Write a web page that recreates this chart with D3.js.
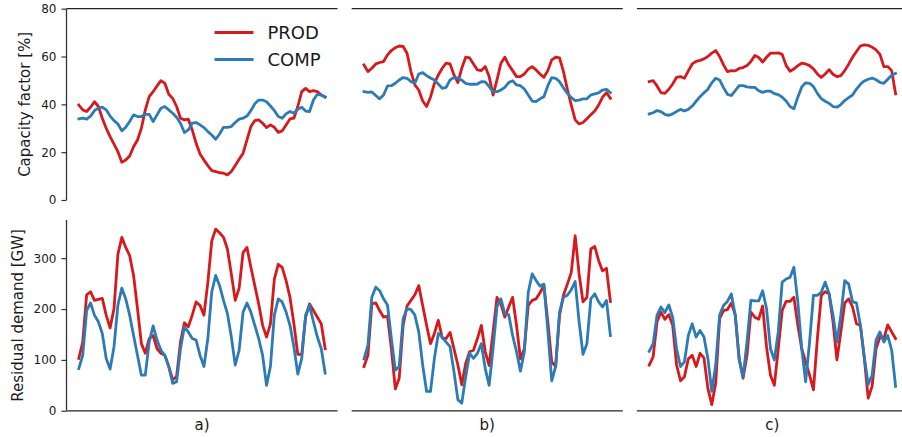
<!DOCTYPE html>
<html>
<head>
<meta charset="utf-8">
<script src="https://cdn.jsdelivr.net/npm/d3@7"></script>
<style>
  html, body { margin: 0; padding: 0; background: #fff; }
  svg { display: block; }
  text { font-family: "DejaVu Sans", sans-serif; fill: #1a1a1a; }
</style>
</head>
<body>
<svg id="chart" width="902" height="437"></svg>
<script>
// ---------------- data ----------------
const panelLabels = ["a)", "b)", "c)"];
const seriesNames = ["PROD", "COMP"];
const cfTicks = [0, 20, 40, 60, 80];
const rdTicks = [0, 100, 200, 300];
const cfLabel = "Capacity factor [%]";
const rdLabel = "Residual demand [GW]";

// capacity factor [%] (top row)
const cfProdA = [39.7,37.7,37.0,38.8,41.1,39.1,34.2,30.0,26.5,23.4,20.2,15.8,16.7,18.4,22.3,25.1,30.0,37.7,43.2,45.3,47.7,49.9,48.8,44.2,42.5,39.1,34.2,33.5,33.8,29.3,23.7,19.2,16.7,14.4,12.3,11.9,11.4,11.2,10.5,11.9,14.4,17.0,19.5,25.1,30.7,33.2,33.5,32.1,30.3,31.4,30.4,28.3,28.9,31.4,33.9,34.2,39.1,45.3,46.7,45.3,45.7,45.3,43.9,43.0];
const cfCompA = [33.9,34.2,33.8,35.1,37.4,38.4,38.8,37.7,35.1,33.2,31.8,28.9,30.4,32.8,35.6,34.9,34.9,35.8,35.8,32.8,35.6,38.4,39.1,37.7,36.3,34.6,32.1,28.2,29.3,32.1,32.4,31.4,30.3,28.6,27.2,25.4,27.6,30.4,30.4,30.7,32.4,33.8,34.2,35.1,37.4,40.2,41.8,41.8,41.1,39.3,37.4,34.9,34.2,36.0,37.0,36.3,37.9,38.8,37.2,37.0,41.8,44.2,43.9,43.0];
const cfProdB = [56.5,53.7,55.1,56.9,57.5,57.9,60.7,62.5,63.7,64.4,64.2,61.4,53.7,48.1,46.0,41.4,39.1,43.0,48.8,52.3,55.1,57.2,56.9,52.3,49.1,55.1,59.7,59.4,56.9,54.4,54.1,55.8,51.6,43.9,50.2,57.2,59.7,56.5,54.1,51.6,51.6,52.7,54.7,55.8,54.4,52.7,51.3,54.1,58.6,59.7,59.4,53.7,46.3,39.7,33.5,31.8,32.4,34.0,35.6,37.2,39.7,43.0,44.9,42.5];
const cfCompB = [45.3,45.0,45.2,43.7,42.3,43.9,47.7,47.8,48.8,50.2,51.2,50.9,49.5,48.8,52.7,53.3,52.0,51.0,50.2,48.5,46.7,47.1,50.2,51.2,51.0,50.1,48.8,48.4,48.4,48.5,49.5,49.4,47.4,45.3,45.3,46.0,47.1,49.1,49.9,48.1,47.8,46.4,43.9,41.4,41.1,42.3,43.2,47.8,51.2,50.9,49.5,46.9,44.6,42.8,41.6,41.8,42.3,42.3,43.9,44.4,44.8,46.0,46.3,44.9];
const cfProdC = [49.5,49.9,47.7,44.9,44.6,46.3,48.5,51.3,51.6,50.9,54.0,56.9,58.0,58.4,59.0,60.0,61.4,62.5,60.0,56.5,53.7,54.1,54.0,55.0,55.4,56.2,57.9,60.4,59.6,57.7,59.7,61.4,61.4,61.5,60.9,56.3,53.8,54.8,56.2,57.2,56.9,56.2,54.8,52.7,51.3,52.7,54.5,52.6,51.6,52.0,54.1,56.8,59.7,62.1,64.4,64.9,64.7,63.9,62.8,60.9,55.8,55.8,54.1,44.4];
const cfCompC = [36.0,36.5,37.4,37.0,35.8,35.4,36.0,37.0,37.9,37.2,37.9,39.3,41.3,43.2,44.8,46.3,49.0,50.9,50.2,47.0,44.2,43.7,45.7,47.8,47.8,47.3,47.1,47.1,45.7,45.0,45.5,45.5,44.5,44.1,43.0,41.4,39.1,38.1,43.0,47.3,49.0,48.8,47.4,44.6,42.4,41.3,40.4,39.1,38.8,39.9,41.6,42.8,43.9,46.4,48.4,49.8,50.5,51.0,50.3,49.2,48.8,50.5,52.2,53.0];

// residual demand [GW] (bottom row)
const rdProdA = [103,135,228,234,217,219,221,188,163,201,308,341,321,305,266,201,132,113,142,148,122,113,109,87,61,67,135,173,165,188,214,207,188,253,334,357,350,341,318,269,217,241,311,321,282,246,210,168,145,171,259,288,282,256,223,171,111,111,184,210,197,184,171,122];
const rdCompA = [83,109,197,212,188,175,152,103,82,126,208,241,220,188,148,109,70,70,135,167,139,119,109,87,54,57,122,165,155,142,139,109,87,142,234,266,246,217,191,145,90,119,194,212,194,168,142,109,50,87,188,220,214,194,168,126,72,103,188,207,175,145,122,74];
const rdProdB = [87,109,210,212,197,184,186,122,43,64,168,206,217,228,246,207,168,132,152,178,143,142,154,122,90,51,93,116,119,142,168,116,89,155,223,210,184,204,223,168,102,122,207,217,220,232,246,175,96,87,188,227,249,272,344,269,214,223,318,323,295,275,280,215];
const rdCompB = [102,129,223,243,236,220,208,142,80,87,181,201,199,188,155,90,38,38,103,152,145,135,126,77,22,15,67,113,103,113,132,83,50,122,204,220,191,189,148,116,78,116,233,269,256,245,249,158,59,87,194,223,227,238,254,175,111,132,220,230,214,204,217,148];
const rdProdC = [90,106,175,194,180,189,168,90,59,67,102,109,87,113,104,44,12,54,181,197,199,212,188,103,64,109,194,184,180,206,126,70,50,122,197,215,215,223,168,122,96,70,41,142,227,234,230,175,100,155,212,220,204,171,168,103,25,48,122,145,142,169,155,142];
const rdCompC = [117,132,188,204,193,208,184,122,87,96,148,171,145,158,145,103,38,90,188,207,215,230,188,100,67,135,217,216,216,236,201,122,100,155,253,259,262,282,214,122,57,135,227,227,233,253,230,188,135,188,256,249,214,212,168,106,52,70,139,155,135,148,119,48];

const cfData = [[cfProdA, cfCompA], [cfProdB, cfCompB], [cfProdC, cfCompC]];
const rdData = [[rdProdA, rdCompA], [rdProdB, rdCompB], [rdProdC, rdCompC]];
const colors = ["#d7191c", "#2c7bb6"];

// ---------------- layout ----------------
const svg = d3.select("#chart");
const panelW = 271, gap = 14.2, left0 = 66.5;
const topY0 = 8.7, topY1 = 200;
const botY0 = 220, botY1 = 410.8;
const n = cfProdA.length;

const x = d3.scaleLinear()
  .domain([-(n - 1) * 0.05, (n - 1) * 1.05])
  .range([0, panelW]);
const yCF = d3.scaleLinear().domain([0, 80]).range([topY1, topY0]);
const yRD = d3.scaleLinear().domain([0, 375]).range([botY1, botY0]);

const line = (ys) => d3.line()
  .x((d, i) => x(i))
  .y(d => ys(d));

panelLabels.forEach((lab, p) => {
  const gx = left0 + p * (panelW + gap);
  const g = svg.append("g").attr("transform", `translate(${gx},0)`);

  // top spine of upper panel
  g.append("line").attr("x1", 0).attr("x2", panelW)
    .attr("y1", topY0).attr("y2", topY0)
    .attr("stroke", "#222").attr("stroke-width", 1.3);
  // bottom spine of lower panel
  g.append("line").attr("x1", 0).attr("x2", panelW)
    .attr("y1", botY1).attr("y2", botY1)
    .attr("stroke", "#222").attr("stroke-width", 1.3);

  // series
  cfData[p].forEach((s, k) => {
    g.append("path").datum(s)
      .attr("d", line(yCF))
      .attr("fill", "none").attr("stroke", colors[k])
      .attr("stroke-width", 2.8).attr("stroke-linejoin", "round")
      .attr("stroke-linecap", "square");
  });
  rdData[p].forEach((s, k) => {
    g.append("path").datum(s)
      .attr("d", line(yRD))
      .attr("fill", "none").attr("stroke", colors[k])
      .attr("stroke-width", 2.8).attr("stroke-linejoin", "round")
      .attr("stroke-linecap", "square");
  });

  // panel label
  g.append("text").attr("x", panelW / 2).attr("y", 430)
    .attr("text-anchor", "middle").style("font-size", "15px").text(lab);

  if (p === 0) {
    const axT = g.append("g").call(d3.axisLeft(yCF).tickValues(cfTicks).tickSize(5).tickPadding(5));
    const axB = g.append("g").call(d3.axisLeft(yRD).tickValues(rdTicks).tickSize(5).tickPadding(5));
    [axT, axB].forEach(ax => {
      ax.select(".domain").attr("stroke", "#333").attr("stroke-width", 1.3);
      ax.selectAll(".tick line").attr("stroke", "#333").attr("stroke-width", 1.2);
      ax.selectAll(".tick text").style("font-size", "12px")
        .style("font-family", "DejaVu Sans, sans-serif").attr("fill", "#1a1a1a");
    });
    // remove outer tick stubs of the domain path
    axT.select(".domain").attr("d", `M0,${topY1}V${topY0}`);
    axB.select(".domain").attr("d", `M0,${botY1}V${botY0}`);

    // legend
    const leg = g.append("g");
    seriesNames.forEach((nm, k) => {
      const ly = 32.5 + k * 27;
      leg.append("line").attr("x1", 148).attr("x2", 187)
        .attr("y1", ly).attr("y2", ly)
        .attr("stroke", colors[k]).attr("stroke-width", 2.8);
      leg.append("text").attr("x", 201).attr("y", ly)
        .attr("dy", "0.35em").style("font-size", "18px").text(nm);
    });
  }
});

// y labels
svg.append("text")
  .attr("transform", `translate(30,${(topY0 + topY1) / 2}) rotate(-90)`)
  .attr("text-anchor", "middle").style("font-size", "15px").text(cfLabel);
svg.append("text")
  .attr("transform", `translate(22.5,${(botY0 + botY1) / 2}) rotate(-90)`)
  .attr("text-anchor", "middle").style("font-size", "15px").text(rdLabel);
</script>
</body>
</html>
